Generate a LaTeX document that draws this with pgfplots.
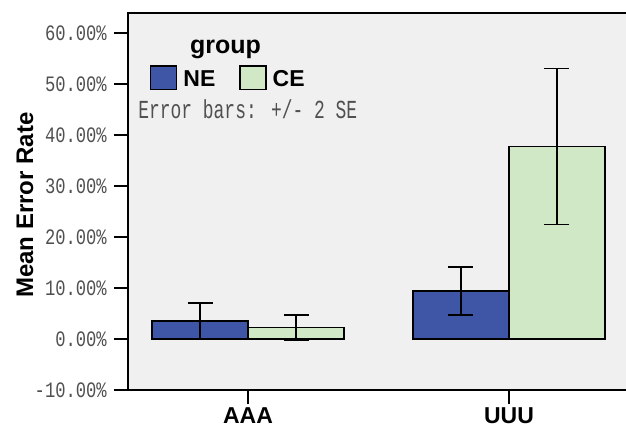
\documentclass[border=0pt]{standalone}
\usepackage{fontspec}
\setmainfont{Liberation Sans}
\newfontfamily\tickfont{Liberation Mono}[FakeStretch=0.78]
\newfontfamily\notefont{Liberation Mono}[FakeStretch=0.69]
\usepackage{pgfplots}
\pgfplotsset{compat=1.18}
\definecolor{neblue}{HTML}{3F56A7}
\definecolor{cegreen}{HTML}{D0E8C5}
\definecolor{bggray}{HTML}{F0F0F0}
\definecolor{ticktext}{HTML}{505050}
\begin{document}
\begin{tikzpicture}
\useasboundingbox (0,0) rectangle (626pt,428pt);
\begin{axis}[
  at={(128pt,38pt)}, anchor=south west,
  scale only axis, width=501pt, height=377pt,
  xmin=-0.46, xmax=1.46, ymin=-10, ymax=63.9,
  axis background/.style={fill=bggray},
  axis line style={line width=1.4pt, black},
  ybar=0pt, bar width=0.368,
  xtick={0,1}, xticklabels={AAA,UUU},
  ytick={-10,0,10,20,30,40,50,60},
  yticklabels={-10.00\%,0.00\%,10.00\%,20.00\%,30.00\%,40.00\%,50.00\%,60.00\%},
  xtick pos=bottom, ytick pos=left,
  tick align=outside, major tick length=14pt,
  tick style={line width=1.4pt, black},
  yticklabel style={font=\tickfont\fontsize{22}{22}\selectfont, text=ticktext, anchor=east, inner sep=0pt, xshift=-7pt},
  xticklabel style={font=\bfseries\fontsize{23}{23}\selectfont, anchor=north, inner sep=0pt, yshift=-3.5pt},
  every axis plot post/.append style={legend image code/.code={\draw[#1, line width=1.3pt] (0pt,-10.5pt) rectangle (26pt,13pt);}},
  legend style={at={(0.0439,0.862)}, anchor=north west, draw=none, fill=none, inner sep=0pt,
    legend columns=2, font=\bfseries\fontsize{23}{23}\selectfont,
    nodes={inner sep=0pt},
    /tikz/every odd column/.append style={column sep=6pt},
    /tikz/every even column/.append style={column sep=24pt}},
  legend cell align=left,
]
\addplot[fill=neblue, draw=black, line width=1.3pt, bar shift=-0.184,
  error bars/.cd, y dir=both, y explicit,
  error bar style={line width=1.3pt, black},
  error mark options={rotate=90, black, line width=1.3pt, mark size=12.5pt}]
  coordinates {(0,3.55) +- (0,3.5) (1,9.4) +- (0,4.7)};
\addplot[fill=cegreen, draw=black, line width=1.3pt, bar shift=0.184,
  error bars/.cd, y dir=both, y explicit,
  error bar style={line width=1.3pt, black},
  error mark options={rotate=90, black, line width=1.3pt, mark size=12.5pt}]
  coordinates {(0,2.2) +- (0,2.5) (1,37.7) +- (0,15.3)};
\legend{NE,CE}
\node[font=\bfseries\fontsize{25}{25}\selectfont, anchor=base] at (axis cs:-0.086,55.9) {group};
\node[font=\notefont\fontsize{26}{26}\selectfont, text=ticktext, anchor=base west, inner sep=0pt] at (axis cs:-0.421,43.3) {Error bars: +/- 2 SE};
\end{axis}
\node[rotate=90, anchor=base, font=\bfseries\fontsize{24}{24}\selectfont, inner sep=0pt] at (33pt,223pt) {Mean Error Rate};
\end{tikzpicture}
\end{document}
